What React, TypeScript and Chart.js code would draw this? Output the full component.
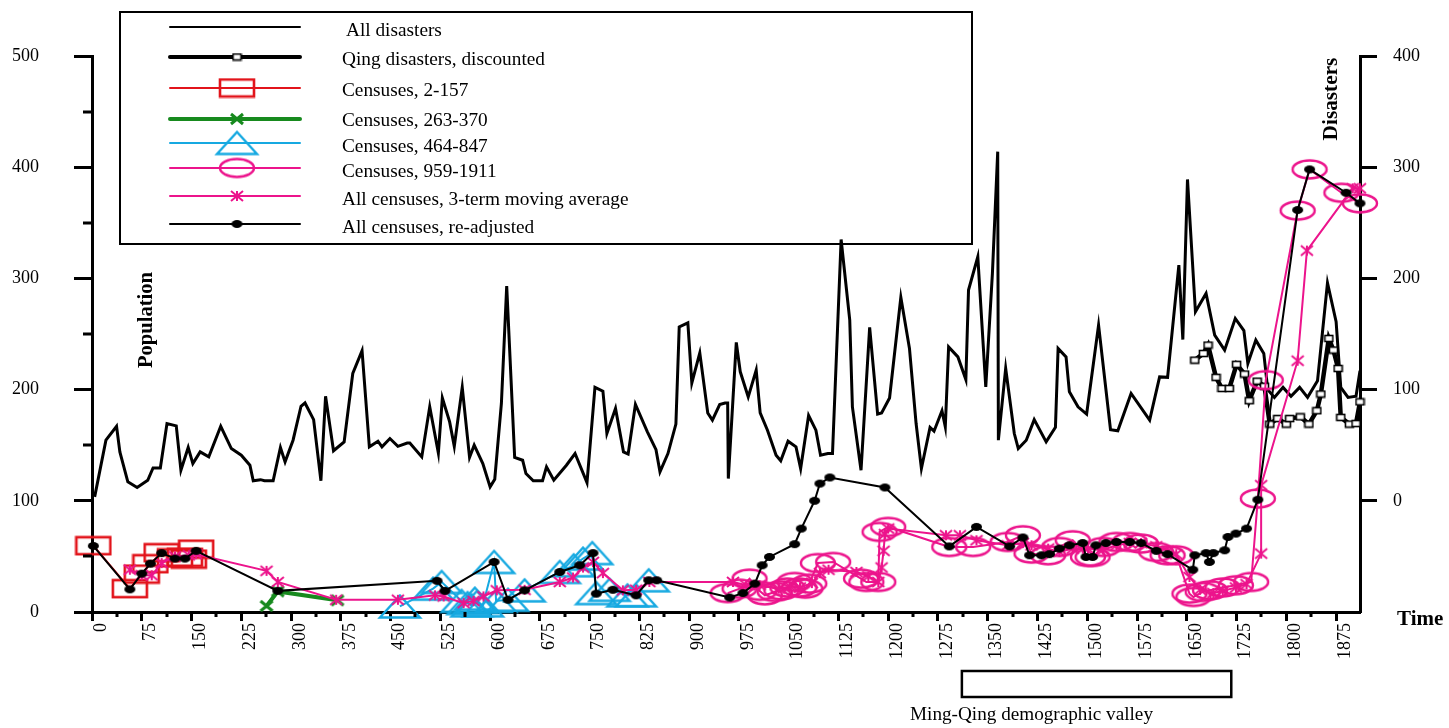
import React, { useEffect, useRef } from "react";
import { Chart, registerables } from "chart.js";

Chart.register(...registerables);

const FONT = '"Liberation Serif", "Times New Roman", serif';

// ---- axis ticks ----
const X_TICKS = [0, 75, 150, 225, 300, 375, 450, 525, 600, 675, 750, 825, 900, 975, 1050, 1125, 1200, 1275, 1350, 1425, 1500, 1575, 1650, 1725, 1800, 1875];
const POP_TICKS = [0, 100, 200, 300, 400, 500];
const POP_MINOR = [50, 150, 250, 350, 450];
const DIS_TICKS = [0, 100, 200, 300, 400];
const VALLEY = [1311, 1717];

// ---- All disasters (right axis) ----
const disasterYears = [4, 21, 37, 42, 54, 68, 84, 92, 103, 113, 127, 134, 145, 152, 163, 176, 194, 210, 225, 238, 243, 254, 260, 273, 284, 291, 303, 315, 321, 334, 345, 352, 364, 380, 393, 407, 418, 431, 437, 449, 461, 475, 479, 497, 509, 522, 528, 539, 546, 558, 569, 576, 589, 600, 607, 617, 625, 637, 649, 654, 665, 679, 685, 696, 715, 728, 746, 758, 770, 776, 789, 801, 808, 819, 837, 850, 856, 868, 880, 885, 898, 904, 916, 928, 935, 946, 954, 958, 959, 971, 977, 989, 1001, 1007, 1018, 1031, 1038, 1049, 1061, 1068, 1080, 1091, 1098, 1109, 1116, 1129, 1142, 1146, 1159, 1172, 1184, 1190, 1202, 1219, 1232, 1242, 1250, 1263, 1269, 1281, 1286, 1291, 1305, 1317, 1321, 1335, 1347, 1357, 1365, 1366, 1377, 1390, 1396, 1408, 1420, 1438, 1452, 1456, 1468, 1473, 1486, 1499, 1517, 1535, 1546, 1566, 1594, 1609, 1621, 1638, 1644, 1651, 1663, 1679, 1692, 1707, 1723, 1736, 1742, 1754, 1766, 1772, 1782, 1795, 1807, 1820, 1832, 1847, 1862, 1875, 1882, 1893, 1905, 1911];
const disasterValues = [3.5, 54.5, 67, 44, 17, 12, 18.5, 29.6, 29.6, 69.5, 67.4, 27.5, 48, 33.5, 44, 39.5, 67, 47, 41, 32, 18, 19, 18, 18, 48, 35, 54.5, 85, 88, 73, 18, 94, 45, 53, 114.5, 135, 48.5, 53.6, 48.5, 56, 49, 52, 52, 39.5, 84.5, 43, 92.5, 71, 49, 102, 39, 50, 33.5, 12.5, 19.4, 87.5, 193, 39, 36.5, 24.5, 18, 18, 30.5, 18.5, 32, 42.5, 16.4, 102, 98.6, 60.5, 83, 44, 42, 86.6, 62, 46, 26, 42.5, 69, 156.4, 160, 106, 133, 79, 72.5, 86.6, 88, 88, 20, 142.4, 116, 93.4, 117.5, 79, 63.5, 41, 36, 53.6, 48.5, 29, 76.7, 63.5, 41, 42.5, 42.5, 235, 162.5, 84.5, 27.5, 156, 78, 79, 92.5, 183, 137, 69.5, 29, 66, 62.6, 81, 66.5, 138.4, 129.4, 109, 189.5, 219.4, 102.4, 204.5, 314, 54.5, 119, 60.5, 47, 54.5, 73, 53, 66, 137, 129.4, 98, 84.5, 78, 158, 64, 63, 96.5, 72.5, 111.4, 111, 212, 145, 289, 170, 186.5, 149, 135.5, 164, 153, 123.5, 144.5, 132.5, 100, 93, 102, 94, 102, 93, 108, 196, 161, 102, 93, 94, 117];

// ---- Qing disasters, discounted (right axis) ----
const qingYears = [1662, 1675, 1682, 1694, 1703, 1714, 1725, 1737, 1744, 1756, 1767, 1775, 1787, 1800, 1805, 1821, 1834, 1846, 1852, 1864, 1871, 1878, 1882, 1895, 1905, 1911];
const qingValues = [126.5, 132.5, 140, 111, 101, 101, 122.7, 114, 90, 107.6, 103, 69, 74, 69, 74, 75.5, 69, 81, 96, 146, 135.5, 119, 75, 69, 69.5, 89];

// ---- Censuses (left axis, millions) ----
const hanYears = [2, 57, 75, 88, 105, 125, 140, 146, 157];
const hanPop = [59.6, 21, 34.1, 43.4, 53.3, 48.7, 49.2, 47.6, 56.5];

const jinYears = [263, 280, 370];
const jinPop = [5.4, 18.5, 10.5];

const tangYears = [464, 514, 527, 557, 566, 572, 577, 580, 589, 606, 609, 627, 652, 705, 726, 740, 754, 760, 780, 807, 820, 839];
const tangPop = [5, 21, 27, 10, 8, 6, 12, 9, 6, 45, 10, 11, 19.5, 36, 42, 48, 53, 17, 20, 15, 15, 28.5];

const lateYears = [958, 976, 991, 1006, 1014, 1029, 1039, 1048, 1059, 1066, 1075, 1081, 1094, 1117, 1159, 1167, 1185, 1187, 1200, 1292, 1328, 1380, 1403, 1416, 1441, 1458, 1478, 1501, 1508, 1524, 1544, 1564, 1581, 1604, 1621, 1634, 1654, 1660, 1674, 1685, 1704, 1724, 1747, 1757, 1769, 1817, 1835, 1883, 1911];
const latePop = [17, 21, 30, 19, 15, 18, 19.5, 22, 27, 22, 21, 25.5, 44, 45, 30, 27, 27, 72, 76.5, 58.5, 58.5, 63, 69, 52.5, 51, 58.5, 64.5, 49.5, 49.5, 58.5, 63, 63, 61.5, 54, 51, 51, 16.5, 13.5, 18, 19.5, 22, 24, 27, 102, 208.5, 361, 398, 377, 367.5];

const maYears = [57, 75, 90, 105, 125, 146, 157, 263, 280, 368, 461, 517, 530, 560, 575, 590, 610, 652, 705, 725, 740, 755, 770, 800, 820, 840, 966, 986, 1006, 1035, 1052, 1067, 1085, 1097, 1110, 1152, 1170, 1185, 1190, 1193, 1195, 1200, 1287, 1308, 1333, 1380, 1403, 1416, 1441, 1458, 1478, 1501, 1524, 1544, 1564, 1581, 1604, 1621, 1634, 1654, 1670, 1690, 1704, 1724, 1740, 1762, 1762, 1817, 1831, 1900, 1911];
const maPop = [38, 33, 33, 44, 50, 51, 52, 37, 27, 11, 11, 15, 14, 8, 10, 14, 19.5, 20, 27, 31, 40, 45, 35, 19.5, 20, 27, 27, 24, 24, 21, 23, 22, 26, 35, 38, 36, 32, 27, 40, 55, 70, 75, 69, 69, 64.5, 60, 62, 60, 57, 54, 57, 57, 56, 60, 62, 62, 59, 55, 52, 31.5, 20, 17, 19, 22, 25, 52.5, 114, 226, 325, 381, 381];

const adjYears = [2, 57, 75, 88, 105, 125, 140, 157, 280, 520, 532, 606, 627, 652, 705, 735, 755, 760, 785, 820, 839, 851, 961, 981, 999, 1010, 1021, 1059, 1069, 1089, 1097, 1112, 1195, 1292, 1333, 1383, 1403, 1413, 1431, 1443, 1458, 1473, 1493, 1498, 1508, 1513, 1528, 1544, 1564, 1581, 1604, 1621, 1659, 1662, 1679, 1684, 1690, 1707, 1712, 1724, 1740, 1757, 1817, 1835, 1890, 1911];
const adjPop = [59.4, 20.4, 34.5, 43.5, 53, 48, 48, 55, 19, 28, 19, 45, 11, 19.5, 36, 42, 53, 16.5, 20, 15, 28.5, 28.5, 13, 17, 25.5, 42, 49.5, 61, 75, 100, 115.5, 121, 112, 59, 76.5, 59, 67, 51, 51, 52, 57, 60, 62, 49.5, 49.5, 60, 62, 63, 63, 62, 55, 52, 38, 51, 53, 45, 53, 55.5, 67.5, 70.5, 75, 101, 361.5, 398, 377, 367.5];

const RED = "#e2141b";
const GREEN = "#178a1e";
const CYAN = "#16a9e1";
const PINK = "#ec148c";

const pts = (xs: number[], ys: number[]) => xs.map((x, i) => ({ x, y: ys[i] }));

function mk(w: number, h: number, draw: (c: CanvasRenderingContext2D) => void) {
  const c = document.createElement("canvas");
  c.width = w;
  c.height = h;
  const ctx = c.getContext("2d")!;
  draw(ctx);
  return c;
}

export default function App() {
  const ref = useRef<HTMLCanvasElement | null>(null);
  useEffect(() => {
    if (!ref.current) return;
    const mRect = mk(38, 21, (c) => {
      c.strokeStyle = RED;
      c.lineWidth = 2.6;
      c.strokeRect(2, 2, 34, 17);
    });
    const mTri = mk(46, 27, (c) => {
      c.strokeStyle = CYAN;
      c.lineWidth = 2.4;
      c.beginPath();
      c.moveTo(23, 2.5);
      c.lineTo(43, 24.5);
      c.lineTo(3, 24.5);
      c.closePath();
      c.stroke();
    });
    const mEll = mk(40, 23, (c) => {
      c.strokeStyle = PINK;
      c.lineWidth = 2.4;
      c.beginPath();
      c.ellipse(20, 11.5, 17, 9, 0, 0, Math.PI * 2);
      c.stroke();
    });
    const mX = (col: string, lw: number) =>
      mk(18, 14, (c) => {
        c.strokeStyle = col;
        c.lineWidth = lw;
        c.beginPath();
        c.moveTo(3, 2);
        c.lineTo(15, 12);
        c.moveTo(15, 2);
        c.lineTo(3, 12);
        c.stroke();
      });
    const mStar = mk(20, 16, (c) => {
      c.strokeStyle = PINK;
      c.lineWidth = 2;
      c.beginPath();
      c.moveTo(4, 3);
      c.lineTo(16, 13);
      c.moveTo(16, 3);
      c.lineTo(4, 13);
      c.moveTo(10, 3);
      c.lineTo(10, 13);
      c.stroke();
    });
    const mDot = mk(13, 10, (c) => {
      c.fillStyle = "#000";
      c.beginPath();
      c.ellipse(6.5, 5, 5.5, 4, 0, 0, Math.PI * 2);
      c.fill();
    });
    const mQing = mk(11, 9, (c) => {
      c.fillStyle = "#fff";
      c.fillRect(1, 1, 9, 7);
      c.strokeStyle = "#000";
      c.lineWidth = 1.6;
      c.strokeRect(1.5, 1.5, 8, 6);
    });
    const mGreen = mX(GREEN, 3);

    const legendItems = [
      { label: "All disasters", color: "#000", lw: 2, marker: null as HTMLCanvasElement | null, ly: 27, ty: 36 },
      { label: "Qing disasters, discounted", color: "#000", lw: 4, marker: mQing, ly: 57, ty: 65 },
      { label: "Censuses, 2-157", color: RED, lw: 2, marker: mRect, ly: 88, ty: 96 },
      { label: "Censuses, 263-370", color: GREEN, lw: 4, marker: mGreen, ly: 119, ty: 126 },
      { label: "Censuses, 464-847", color: CYAN, lw: 2, marker: mTri, ly: 143, ty: 151.5 },
      { label: "Censuses, 959-1911", color: PINK, lw: 2, marker: mEll, ly: 168, ty: 176.5 },
      { label: "All censuses, 3-term moving average", color: PINK, lw: 2, marker: mStar, ly: 196, ty: 205 },
      { label: "All censuses, re-adjusted", color: "#000", lw: 2, marker: mDot, ly: 224, ty: 233 },
    ];

    const decor = {
      id: "decor",
      afterDraw(chart: any) {
        const { ctx, chartArea } = chart;
        const x = chart.scales.x;
        const y = chart.scales.y;
        ctx.save();
        ctx.strokeStyle = "#000";
        ctx.fillStyle = "#000";
        ctx.lineWidth = 3;
        ctx.lineCap = "butt";
        // minor ticks
        ctx.beginPath();
        for (const v of POP_MINOR) {
          const py = Math.round(y.getPixelForValue(v));
          ctx.moveTo(chartArea.left - 9, py);
          ctx.lineTo(chartArea.left, py);
        }
        for (const t of X_TICKS) {
          const v = t + 37.5;
          if (v > x.max) continue;
          const px = Math.round(x.getPixelForValue(v));
          ctx.moveTo(px, chartArea.bottom);
          ctx.lineTo(px, chartArea.bottom + 5);
        }
        ctx.stroke();

        // legend box
        ctx.lineWidth = 2;
        ctx.strokeRect(120, 12, 852, 232);
        ctx.font = `19.3px ${FONT}`;
        ctx.textBaseline = "alphabetic";
        ctx.textAlign = "left";
        for (const it of legendItems) {
          ctx.strokeStyle = it.color;
          ctx.lineWidth = it.lw;
          ctx.lineCap = "round";
          ctx.beginPath();
          ctx.moveTo(170, it.ly);
          ctx.lineTo(300, it.ly);
          ctx.stroke();
          if (it.marker) ctx.drawImage(it.marker, 237 - it.marker.width / 2, it.ly - it.marker.height / 2);
          ctx.fillStyle = "#000";
          ctx.fillText(it.label, it.label === "All disasters" ? 346 : 342, it.ty);
        }

        // axis titles
        ctx.fillStyle = "#000";
        ctx.font = `bold 20.6px ${FONT}`;
        ctx.textAlign = "center";
        ctx.textBaseline = "middle";
        ctx.save();
        ctx.translate(147, 320);
        ctx.rotate(-Math.PI / 2);
        ctx.fillText("Population", 0, 0);
        ctx.restore();
        ctx.save();
        ctx.translate(1331, 99);
        ctx.rotate(-Math.PI / 2);
        ctx.font = `bold 21.3px ${FONT}`;
        ctx.fillText("Disasters", 0, 0);
        ctx.restore();
        ctx.font = `bold 21px ${FONT}`;
        ctx.textAlign = "left";
        ctx.fillText("Time", 1397, 620);

        // valley bar
        const vx0 = x.getPixelForValue(VALLEY[0]);
        const vx1 = x.getPixelForValue(VALLEY[1]);
        ctx.strokeStyle = "#000";
        ctx.lineWidth = 2.5;
        ctx.strokeRect(vx0, 671, vx1 - vx0, 26);
        ctx.font = `19.2px ${FONT}`;
        ctx.textBaseline = "alphabetic";
        ctx.fillText("Ming-Qing demographic valley", 910, 720);
        ctx.restore();
      },
    };

    const fmt = (v: any) => String(v);
    const common = { tension: 0, clip: false as any, pointHoverRadius: 0 };
    const chart = new Chart(ref.current, {
      type: "line",
      data: {
        datasets: [
          { ...common, label: "All censuses, re-adjusted", data: pts(adjYears, adjPop), yAxisID: "y", borderColor: "#000", borderWidth: 2, pointStyle: mDot, pointRadius: 5, order: 0 },
          { ...common, label: "All censuses, 3-term moving average", data: pts(maYears, maPop), yAxisID: "y", borderColor: PINK, borderWidth: 2, pointStyle: mStar, pointRadius: 6, order: 1 },
          { ...common, label: "Censuses, 959-1911", data: pts(lateYears, latePop), yAxisID: "y", borderColor: PINK, borderWidth: 2, pointStyle: mEll, pointRadius: 8, order: 2 },
          { ...common, label: "Censuses, 464-847", data: pts(tangYears, tangPop), yAxisID: "y", borderColor: CYAN, borderWidth: 2, pointStyle: mTri, pointRadius: 8, order: 3 },
          { ...common, label: "Censuses, 263-370", data: pts(jinYears, jinPop), yAxisID: "y", borderColor: GREEN, borderWidth: 4, pointStyle: mGreen, pointRadius: 6, order: 4 },
          { ...common, label: "Censuses, 2-157", data: pts(hanYears, hanPop), yAxisID: "y", borderColor: RED, borderWidth: 2, pointStyle: mRect, pointRadius: 8, order: 5 },
          { ...common, label: "Qing disasters, discounted", data: pts(qingYears, qingValues), yAxisID: "y2", borderColor: "#000", borderWidth: 4.5, pointStyle: mQing, pointRadius: 4, order: 6 },
          { ...common, label: "All disasters", data: pts(disasterYears, disasterValues), yAxisID: "y2", borderColor: "#000", borderWidth: 3, pointRadius: 0, order: 7 },
        ],
      },
      options: {
        animation: false,
        responsive: false,
        devicePixelRatio: 1,
        events: [],
        layout: { padding: { top: 56, left: 0, right: 0, bottom: 0 } },
        plugins: { legend: { display: false }, tooltip: { enabled: false } },
        scales: {
          x: {
            type: "linear",
            min: 0,
            max: 1911,
            afterBuildTicks: (s: any) => {
              s.ticks = X_TICKS.map((v) => ({ value: v }));
            },
            afterFit: (s: any) => {
              s.height = 116;
            },
            ticks: { autoSkip: false, minRotation: 90, maxRotation: 90, padding: 2, labelOffset: 9, callback: fmt, color: "#000", font: { family: FONT, size: 18 } },
            grid: { drawOnChartArea: false, drawTicks: true, tickLength: 9, tickWidth: 3, tickColor: "#000", color: "#000" },
            border: { display: true, color: "#000", width: 3 },
          },
          y: {
            type: "linear",
            position: "left",
            min: 0,
            max: 500,
            afterBuildTicks: (s: any) => {
              s.ticks = POP_TICKS.map((v) => ({ value: v }));
            },
            afterFit: (s: any) => {
              s.width = 92;
            },
            ticks: { padding: 35, callback: fmt, color: "#000", font: { family: FONT, size: 18 } },
            grid: { drawOnChartArea: false, drawTicks: true, tickLength: 18, tickWidth: 3, tickColor: "#000", color: "#000" },
            border: { display: true, color: "#000", width: 3 },
          },
          y2: {
            type: "linear",
            position: "right",
            min: -100,
            max: 400,
            afterBuildTicks: (s: any) => {
              s.ticks = DIS_TICKS.map((v) => ({ value: v }));
            },
            afterFit: (s: any) => {
              s.width = 89;
            },
            ticks: { padding: 16, callback: fmt, color: "#000", font: { family: FONT, size: 18 } },
            grid: { drawOnChartArea: false, drawTicks: true, tickLength: 17, tickWidth: 3, tickColor: "#000", color: "#000" },
            border: { display: true, color: "#000", width: 3 },
          },
        },
      },
      plugins: [decor],
    });
    return () => chart.destroy();
  }, []);

  return (
    <div style={{ position: "absolute", left: 0, top: 0, width: 1449, height: 728, background: "#fff" }}>
      <canvas ref={ref} width={1449} height={728} style={{ width: 1449, height: 728, display: "block" }} />
    </div>
  );
}
